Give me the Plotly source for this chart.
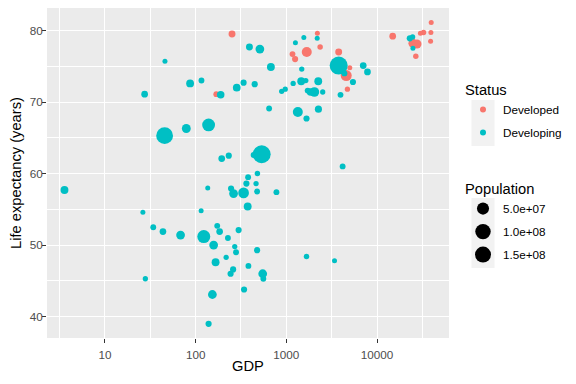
import numpy as np
import plotly.graph_objects as go

# ---- Data ----
dev_gdp = [252, 169, 2200, 2360, 1680, 1170, 1250, 3780, 5010, 4580, 4720,
           14900, 24900, 27600, 26800, 30100, 32600, 39300, 39600, 39000]
dev_life = [79.5, 71.1, 79.6, 77.7, 77.0, 76.7, 76.0, 77.0, 74.8, 73.7, 71.8,
            79.2, 78.2, 78.1, 76.4, 79.6, 79.7, 79.7, 81.1, 78.5]
dev_pop = [7e6, 3e6, 1e6, 2e6, 28e6, 3e6, 4e6, 7e6, 1e6, 38e6, 1.5e6,
           6e6, 20e6, 20e6, 2e6, 1e6, 2e6, 1e6, 1e6, 1e6]

dvg_gdp = [392, 511, 45.9, 86.9, 116, 27.4, 189, 284, 338, 448,
           45.5, 78.9, 139, 194, 232, 535, 436, 3.58, 136, 246,
           262, 338, 363, 379, 480, 464, 476, 778, 676, 646,
           1340, 1670, 2260, 1260, 1560, 2190, 1480, 1190, 1460, 1640,
           2250, 889, 973, 1720, 1850, 2040, 2520, 3780, 4380, 5430,
           3960, 7050, 7850, 23000, 24700, 24900, 4180, 375, 115, 26.2,
           34.1, 43.6, 68.2, 123, 173, 184, 298, 227, 158, 270,
           279, 217, 476, 166, 259, 243, 382, 27.9, 153, 342,
           139, 549, 558, 1670, 3400]
dvg_life = [77.7, 77.4, 75.7, 72.6, 73.0, 71.1, 71.0, 72.0, 72.7, 72.5,
            65.3, 66.3, 66.8, 62.1, 62.5, 62.7, 62.6, 57.7, 58.0, 57.9,
            57.2, 57.3, 58.6, 59.5, 60.0, 58.6, 57.5, 57.4, 74.9, 69.1,
            68.6, 67.7, 69.0, 78.3, 79.0, 78.9, 74.6, 72.6, 72.9, 73.0,
            72.9, 71.5, 71.8, 71.6, 71.4, 71.4, 71.4, 75.1, 74.0, 72.8,
            71.0, 75.1, 74.2, 78.9, 79.1, 77.5, 61.0, 55.4, 54.8, 54.6,
            52.5, 51.9, 51.4, 51.2, 52.7, 51.9, 52.1, 51.0, 50.0, 49.8,
            49.0, 48.3, 49.3, 47.6, 46.6, 46.0, 47.1, 45.3, 43.1, 43.8,
            39.0, 46.0, 45.3, 48.4, 47.8]
dvg_pop = [7e6, 18e6, 1e6, 12e6, 3e6, 6e6, 10e6, 11e6, 4e6, 4e6,
           125e6, 19e6, 60e6, 6e6, 4e6, 149e6, 3e6, 12e6, 1e6, 4e6,
           18e6, 35e6, 4e6, 3e6, 2e6, 1.5e6, 3e6, 3e6, 12e6, 3e6,
           28e6, 4e6, 8e6, 1e6, 1e6, 1e6, 1.5e6, 1.5e6, 12e6, 1.5e6,
           12e6, 1.5e6, 1.5e6, 3e6, 10e6, 25e6, 1.5e6, 150e6, 3e6, 4e6,
           3e6, 6e6, 6e6, 4e6, 1.5e6, 1e6, 3e6, 12e6, 1e6, 1e6,
           3e6, 6e6, 18e6, 62e6, 3e6, 6e6, 4e6, 3e6, 18e6, 1.5e6,
           3e6, 1.5e6, 4e6, 12e6, 4e6, 4e6, 3e6, 1.5e6, 18e6, 4e6,
           4e6, 18e6, 3e6, 2e6, 1e6]

pop_breaks = [5e7, 1e8, 1.5e8]
pop_labels = ["5.0e+07", "1.0e+08", "1.5e+08"]

x_ticks = [10, 100, 1000, 10000]
x_ticklabels = ["10", "100", "1000", "10000"]
y_ticks = [40, 50, 60, 70, 80]

RED = "#F8766D"
CYAN = "#00BFC4"
KEYBG = "#F2F2F2"
FONT = "Liberation Sans, Arial, sans-serif"

# the page body has an 8px margin; size the figure so the panel lands where
# the reference panel is (window px: x 47..449, y 8..338)
OFF = 8
W, H = 576 - OFF, 384 - OFF
ML, MR, MT, MB = 47 - OFF, 127, 0, 46
PW, PH = W - ML - MR, H - MT - MB


def px_x(px):
    # window pixel -> paper x
    return (px - OFF - ML) / PW


def px_y(py):
    # window pixel -> paper y
    return (H - MB - (py - OFF)) / PH


def size_px(pop):
    # area-type size scale (like ggplot scale_size range 1..6)
    return 3.85 + 14.2 * np.sqrt(np.asarray(pop, dtype=float) / 1.5e8)


fig = go.Figure()

fig.add_trace(go.Scatter(
    x=dev_gdp, y=dev_life, mode="markers", name="Developed",
    marker=dict(color=RED, size=size_px(dev_pop), opacity=1, line=dict(width=0)),
    legend="legend", legendgroup="dev", showlegend=False))
fig.add_trace(go.Scatter(
    x=dvg_gdp, y=dvg_life, mode="markers", name="Developing",
    marker=dict(color=CYAN, size=size_px(dvg_pop), opacity=1, line=dict(width=0)),
    legend="legend", legendgroup="dvg", showlegend=False))

# legend entries for Status
for nm, col, grp in [("Developed", RED, "dev"), ("Developing", CYAN, "dvg")]:
    fig.add_trace(go.Scatter(
        x=[None], y=[None], mode="markers", name=nm,
        marker=dict(color=col, size=6, opacity=1, line=dict(width=0)),
        legend="legend", legendgroup=grp, showlegend=True))

# legend entries for Population
for pb, lab in zip(pop_breaks, pop_labels):
    fig.add_trace(go.Scatter(
        x=[None], y=[None], mode="markers", name=lab,
        marker=dict(color="black", size=float(size_px(pb)), opacity=1, line=dict(width=0)),
        legend="legend2", legendgroup=lab, showlegend=True))

minor_x = [10 ** (k + 0.5) for k in range(0, 5)]
minor_y = [45, 55, 65, 75]

# grey legend-key backgrounds (ggplot style)
shapes = [
    dict(type="rect", xref="paper", yref="paper", layer="below",
         x0=px_x(471.5), x1=px_x(494.5), y0=px_y(146), y1=px_y(100),
         fillcolor=KEYBG, line=dict(width=0)),
    dict(type="rect", xref="paper", yref="paper", layer="below",
         x0=px_x(471.5), x1=px_x(494.5), y0=px_y(268), y1=px_y(198),
         fillcolor=KEYBG, line=dict(width=0)),
]

fig.update_layout(
    width=W, height=H,
    margin=dict(l=ML, r=MR, t=MT, b=MB, autoexpand=False),
    paper_bgcolor="white", plot_bgcolor="#EBEBEB",
    font=dict(family=FONT, size=12, color="black"),
    shapes=shapes,
    xaxis=dict(
        type="log", range=[0.361, 4.794], automargin=False,
        tickmode="array", tickvals=x_ticks, ticktext=x_ticklabels,
        showgrid=True, gridcolor="white", gridwidth=1.4,
        minor=dict(tickmode="array", tickvals=minor_x, showgrid=True,
                   gridcolor="white", gridwidth=0.7, ticks=""),
        ticks="outside", ticklen=4, tickwidth=1, tickcolor="#333333",
        ticklabelstandoff=2,
        tickfont=dict(family=FONT, size=11.7, color="#4D4D4D"),
        title=dict(text="GDP", font=dict(family=FONT, size=14.7, color="black"), standoff=0),
        zeroline=False, showline=False,
    ),
    yaxis=dict(
        range=[37.02, 83.14], automargin=False,
        tickmode="array", tickvals=y_ticks,
        showgrid=True, gridcolor="white", gridwidth=1.4,
        minor=dict(tickmode="array", tickvals=minor_y, showgrid=True,
                   gridcolor="white", gridwidth=0.7, ticks=""),
        ticks="outside", ticklen=4, tickwidth=1, tickcolor="#333333",
        ticklabelstandoff=-3,
        tickfont=dict(family=FONT, size=11.7, color="#4D4D4D"),
        title=dict(text="Life expectancy (years)", font=dict(family=FONT, size=14.7, color="black"), standoff=12),
        zeroline=False, showline=False,
    ),
    legend=dict(
        title=dict(text="Status", font=dict(family=FONT, size=14.7, color="black")),
        font=dict(family=FONT, size=11.7, color="black"),
        x=px_x(463), xanchor="left", y=px_y(76), yanchor="top",
        bgcolor="rgba(0,0,0,0)", itemsizing="trace", traceorder="grouped",
        tracegroupgap=4,
    ),
    legend2=dict(
        title=dict(text="Population", font=dict(family=FONT, size=14.7, color="black")),
        font=dict(family=FONT, size=11.7, color="black"),
        x=px_x(463), xanchor="left", y=px_y(175), yanchor="top",
        bgcolor="rgba(0,0,0,0)", itemsizing="trace", traceorder="grouped",
        tracegroupgap=4,
    ),
)

fig.write_html("out.html")
